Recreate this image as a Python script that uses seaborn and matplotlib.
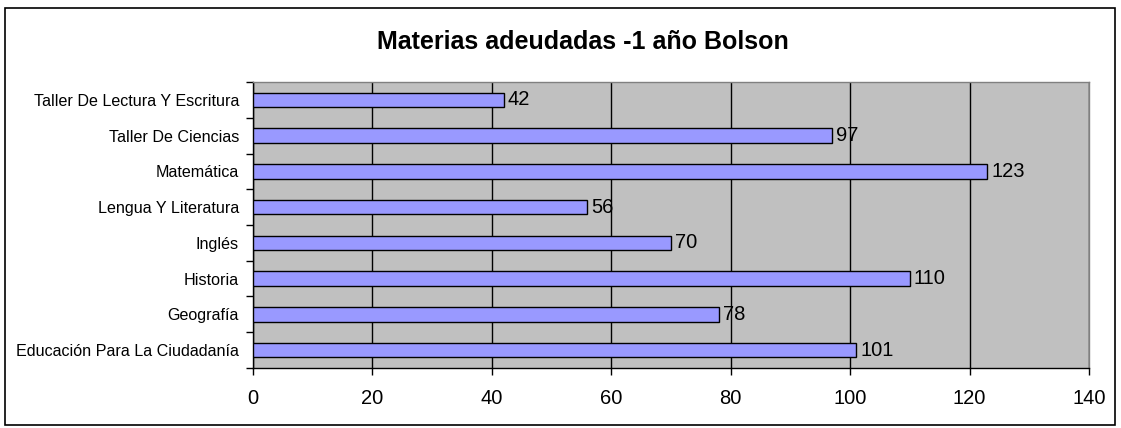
import matplotlib
matplotlib.use('Agg')
import matplotlib.pyplot as plt
import seaborn as sns
import pandas as pd
from matplotlib.patches import Rectangle
from matplotlib.ticker import FixedLocator

materias = ['Taller De Lectura Y Escritura', 'Taller De Ciencias', 'Matemática',
            'Lengua Y Literatura', 'Inglés', 'Historia', 'Geografía',
            'Educación Para La Ciudadanía']
adeudadas = [42, 97, 123, 56, 70, 110, 78, 101]
x_ticks = [0, 20, 40, 60, 80, 100, 120, 140]

df = pd.DataFrame({'materia': materias, 'cantidad': adeudadas})

sns.set_style('white')
plt.rcParams['font.family'] = ['Liberation Sans', 'DejaVu Sans']
plt.rcParams['text.color'] = 'black'
plt.rcParams['xtick.color'] = 'black'
plt.rcParams['ytick.color'] = 'black'

fig = plt.figure(figsize=(11.21, 4.28), dpi=100)
ax = fig.add_axes([0.2257, 0.1402, 0.7457, 0.6682])

sns.barplot(data=df, y='materia', x='cantidad', orient='h', color='#9999FF',
            saturation=1, width=0.4, edgecolor='black', linewidth=1, ax=ax, zorder=3)

ax.set_facecolor('#C0C0C0')
ax.set_xlim(0, 140)
ax.set_ylim(len(materias) - 0.5, -0.5)
ax.set_xticks(x_ticks)
ax.set_xticklabels([str(t) for t in x_ticks], fontsize=14.5)
ax.xaxis.grid(True, color='black', linewidth=1, zorder=1)
ax.set_axisbelow(True)
ax.set_xlabel('')
ax.set_ylabel('')
ax.tick_params(axis='y', which='major', length=0, labelsize=11.6, pad=10)
ax.yaxis.set_minor_locator(FixedLocator([i - 0.5 for i in range(len(materias) + 1)]))
ax.tick_params(axis='y', which='minor', length=5, width=1, color='black', left=True)
ax.tick_params(axis='x', which='major', length=5, width=1, color='black', bottom=True, pad=10)

for side in ['top', 'right']:
    ax.spines[side].set_color('#808080')
    ax.spines[side].set_linewidth(1)
for side in ['left', 'bottom']:
    ax.spines[side].set_color('black')
    ax.spines[side].set_linewidth(1)

ax.bar_label(ax.containers[0], labels=[str(v) for v in adeudadas], padding=3,
             fontsize=14.5, color='black', zorder=4)

fig.text(0.52, 0.903, 'Materias adeudadas -1 año Bolson', ha='center', va='center',
         fontsize=18, fontweight='bold', color='black')

fig.patches.append(Rectangle((5 / 1121, 3 / 428), 1110 / 1121, 417 / 428,
                             transform=fig.transFigure, fill=False,
                             edgecolor='black', linewidth=1.2))

fig.savefig('out.png', dpi=100)
